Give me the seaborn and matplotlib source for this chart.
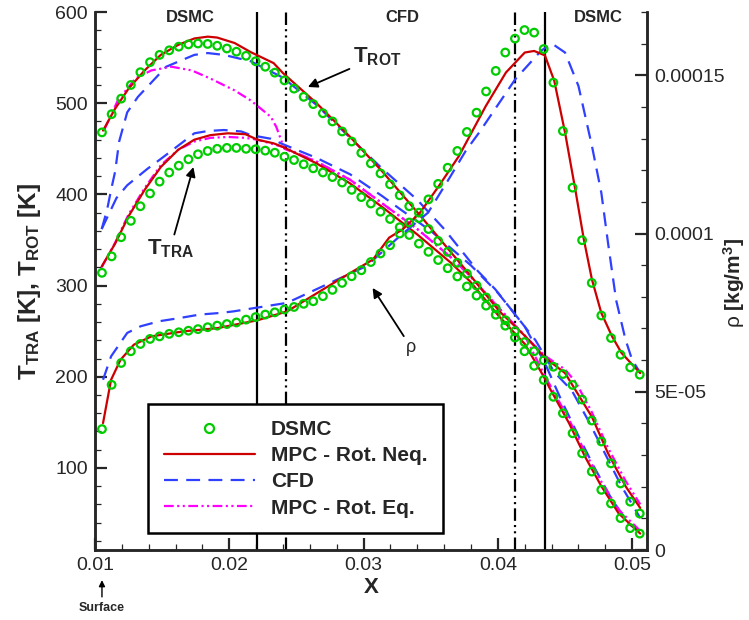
import matplotlib
matplotlib.use("Agg")
import matplotlib.pyplot as plt
from matplotlib.lines import Line2D
from matplotlib.ticker import MultipleLocator, FixedLocator, FixedFormatter
import seaborn as sns

sns.set_style("ticks")
plt.rcParams['font.family'] = ['Liberation Sans', 'DejaVu Sans']
plt.rcParams['mathtext.fontset'] = 'custom'
plt.rcParams['mathtext.rm'] = 'Liberation Sans'
plt.rcParams['mathtext.bf'] = 'Liberation Sans:bold'
plt.rcParams['mathtext.it'] = 'Liberation Sans:italic'
plt.rcParams['lines.scale_dashes'] = False

# DSMC samples (markers)
x_dsmc = [0.01052, 0.01124, 0.01195, 0.01267, 0.01338, 0.01410, 0.01481, 0.01553, 0.01624, 0.01696,
          0.01767, 0.01839, 0.01910, 0.01982, 0.02053, 0.02125, 0.02196, 0.02268, 0.02339, 0.02411,
          0.02482, 0.02554, 0.02625, 0.02697, 0.02768, 0.02840, 0.02911, 0.02983, 0.03054, 0.03126,
          0.03197, 0.03269, 0.03340, 0.03412, 0.03483, 0.03555, 0.03626, 0.03698, 0.03769, 0.03841,
          0.03912, 0.03984, 0.04055, 0.04127, 0.04198, 0.04270, 0.04341, 0.04413, 0.04484, 0.04556,
          0.04627, 0.04699, 0.04770, 0.04842, 0.04913, 0.04985, 0.05056]
trot_dsmc = [468, 488, 505, 520, 534, 545, 553, 558, 562, 564.5,
             565.5, 565, 563, 560, 556.5, 552, 546, 540, 533.5, 525,
             516, 507, 499, 489, 480, 469, 458, 445.5, 434, 423,
             411, 399, 387, 374, 362, 349, 337, 325, 313, 300,
             287, 275, 262, 250, 238, 228, 218, 211, 203, 191,
             175, 152, 129, 105, 83, 63, 50]
ttra_dsmc = [314, 332, 353, 371, 387, 401, 414, 424, 431.5, 438.5,
             444, 447.6, 450, 451, 451, 450, 449.5, 448, 445.7, 441.3,
             437.7, 433, 428.6, 424, 419, 413, 405, 397, 390, 381,
             373, 364, 355.5, 346, 337, 328, 319, 310, 299, 289,
             278, 268, 256, 243, 228, 212, 196.5, 178, 160, 138,
             116, 96, 76, 61, 45, 34, 28]
rho_dsmc = [3.82e-5, 5.22e-5, 5.91e-5, 6.28e-5, 6.51e-5, 6.67e-5, 6.75e-5, 6.83e-5, 6.88e-5, 6.93e-5,
            6.98e-5, 7.04e-5, 7.09e-5, 7.14e-5, 7.19e-5, 7.28e-5, 7.36e-5, 7.44e-5, 7.51e-5, 7.60e-5,
            7.68e-5, 7.78e-5, 7.86e-5, 8.02e-5, 8.22e-5, 8.44e-5, 8.65e-5, 8.84e-5, 9.10e-5, 9.37e-5,
            9.63e-5, 1.000e-4, 1.035e-4, 1.066e-4, 1.108e-4, 1.157e-4, 1.208e-4, 1.261e-4, 1.321e-4, 1.382e-4,
            1.449e-4, 1.514e-4, 1.572e-4, 1.616e-4, 1.643e-4, 1.635e-4, 1.583e-4, 1.477e-4, 1.324e-4, 1.145e-4,
            9.79e-5, 8.44e-5, 7.41e-5, 6.70e-5, 6.17e-5, 5.77e-5, 5.54e-5]

# MPC - rotational non-equilibrium (red)
x_neq_rot = [0.0106, 0.0115, 0.0125, 0.0137, 0.0149, 0.0162, 0.0174, 0.0184, 0.0191, 0.0204, 0.0216,
             0.0233, 0.0240, 0.0265, 0.0290, 0.0314, 0.0342, 0.0379, 0.0401, 0.0420, 0.0435, 0.0450,
             0.0455, 0.0470, 0.0482, 0.0495, 0.0506]
trot_neq = [470, 494, 516, 536, 553, 564, 571, 573, 572, 566, 556,
            544, 533, 500, 463, 425, 377, 312, 272, 245, 221, 204,
            192, 156, 116, 80, 56]
x_neq_tra = [0.0105, 0.0115, 0.0125, 0.0137, 0.0149, 0.0162, 0.0174, 0.0186, 0.0199, 0.0212, 0.0221,
             0.0233, 0.0240, 0.0265, 0.0290, 0.0314, 0.0340, 0.0365, 0.0379, 0.0401, 0.0420, 0.0435,
             0.0438, 0.0453, 0.0465, 0.0477, 0.0490, 0.0506]
ttra_neq = [321, 346, 376, 405, 430, 449, 460, 465, 467, 466, 460,
            456, 452, 434, 412, 386, 356, 325, 305, 266, 236, 198,
            189, 149, 112, 80, 50, 28]
x_neq_rho = [0.0106, 0.0112, 0.0119, 0.0129, 0.0142, 0.0166, 0.0191, 0.0221, 0.0243, 0.0282, 0.0307,
             0.0319, 0.0329, 0.0342, 0.0356, 0.0371, 0.0391, 0.0406, 0.0420, 0.0427, 0.0435, 0.0442,
             0.0450, 0.0458, 0.0464, 0.0470, 0.0477, 0.0485, 0.0492, 0.0500, 0.0506]
rho_neq = [4.01e-5, 5.38e-5, 6.01e-5, 6.49e-5, 6.75e-5, 6.91e-5, 7.01e-5, 7.26e-5, 7.54e-5, 8.55e-5, 9.18e-5,
           9.87e-5, 1.013e-4, 1.066e-4, 1.150e-4, 1.245e-4, 1.403e-4, 1.509e-4, 1.572e-4, 1.577e-4, 1.563e-4, 1.482e-4,
           1.319e-4, 1.130e-4, 9.81e-5, 8.55e-5, 7.49e-5, 6.75e-5, 6.23e-5, 5.86e-5, 5.59e-5]

# CFD (blue)
x_cfd_rot = [0.0105, 0.0109, 0.0112, 0.0115, 0.0118, 0.0124, 0.0132, 0.0153, 0.0174, 0.0184, 0.0196,
             0.0216, 0.0240, 0.0265, 0.0290, 0.0314, 0.0340, 0.0360, 0.0385, 0.0398, 0.0428, 0.0442,
             0.0455, 0.0468, 0.0480, 0.0492, 0.0506]
trot_cfd = [362, 383, 405, 425, 458, 490, 507, 540, 553, 555, 553,
            546, 528, 498, 462, 428, 394, 362, 316, 296, 240, 205,
            185, 150, 115, 80, 45]
x_cfd_tra = [0.0105, 0.0116, 0.0124, 0.0139, 0.0150, 0.0174, 0.0184, 0.0196, 0.0209, 0.0216, 0.0231,
             0.0240, 0.0265, 0.0290, 0.0314, 0.0327, 0.0350, 0.0380, 0.0400, 0.0420, 0.0435, 0.0447,
             0.0460, 0.0472, 0.0485, 0.0498, 0.0506]
ttra_cfd = [362, 396, 410, 428, 440, 467, 469.5, 470.6, 469, 465, 461,
            455, 440, 422, 398, 384, 360, 322, 292, 255, 215, 175,
            135, 100, 65, 38, 30]
x_cfd_rho = [0.0106, 0.0112, 0.0124, 0.0134, 0.0148, 0.0163, 0.0178, 0.0193, 0.0203, 0.0243, 0.0302,
             0.0327, 0.0348, 0.0364, 0.0376, 0.0386, 0.0413, 0.0422, 0.0432, 0.0440, 0.0450, 0.0460,
             0.0470, 0.0477, 0.0482, 0.0488, 0.0495, 0.0500, 0.0506]
rho_cfd = [5.38e-5, 6.12e-5, 6.86e-5, 7.07e-5, 7.23e-5, 7.33e-5, 7.44e-5, 7.49e-5, 7.54e-5, 7.81e-5, 8.97e-5,
           9.92e-5, 1.066e-4, 1.176e-4, 1.261e-4, 1.319e-4, 1.488e-4, 1.530e-4, 1.577e-4, 1.601e-4, 1.572e-4, 1.466e-4,
           1.277e-4, 1.129e-4, 9.70e-5, 7.90e-5, 6.65e-5, 6.00e-5, 5.60e-5]

# MPC - rotational equilibrium (magenta)
x_eq_rot = [0.0107, 0.0117, 0.0130, 0.0142, 0.0157, 0.0172, 0.0186, 0.0204, 0.0216, 0.0231, 0.0235,
            0.0241, 0.0265, 0.0290, 0.0314, 0.0340, 0.0365, 0.0379, 0.0401, 0.0420, 0.0435, 0.0450,
            0.0458, 0.0470, 0.0482, 0.0495, 0.0506]
trot_eq = [471, 503, 527, 536, 540, 536, 527, 514, 503, 485, 474,
           450, 436, 416, 390, 362, 331, 311, 275, 245, 223, 208,
           194, 161, 122, 86, 60]
x_eq_tra = [0.0105, 0.0115, 0.0125, 0.0137, 0.0149, 0.0162, 0.0174, 0.0186, 0.0199, 0.0212, 0.0221,
            0.0240, 0.0265, 0.0290, 0.0314, 0.0340, 0.0365, 0.0379, 0.0401, 0.0420, 0.0435, 0.0453,
            0.0465, 0.0477, 0.0490, 0.0506]
ttra_eq = [320, 347, 378, 407, 432, 449, 458, 462, 463, 462, 460,
           452, 436, 416, 390, 362, 331, 311, 275, 245, 201, 153,
           117, 85, 54, 31]

# interface lines and labels
x_interface_solid = [0.0221, 0.0435]
x_interface_dash = [0.0242, 0.0413]
region_labels = ['DSMC', 'CFD', 'DSMC']
region_x = [0.01711, 0.03289, 0.04748]
rho_ticks = [0, 5e-5, 1e-4, 1.5e-4]
rho_ticklabels = ['0', '5E-05', '0.0001', '0.00015']

GREEN = '#00cc00'
RED = '#cc0000'
BLUE = '#3040ff'
MAGENTA = '#ff00ff'
dash_blue = (0, (10, 6))
dash_mag = (0, (7, 2.5, 1.5, 2.5, 1.5, 2.5))
dash_black = (0, (9, 3, 1.5, 3, 1.5, 3))

fig = plt.figure(figsize=(7.49, 6.2), dpi=100)
ax = fig.add_axes([0.1268, 0.1129, 0.7370, 0.8677])
ax2 = ax.twinx()

for xv in x_interface_solid:
    ax.axvline(xv, color='black', lw=1.6, zorder=1)
for xv in x_interface_dash:
    ax.axvline(xv, color='black', lw=1.6, ls=dash_black, zorder=1)

lw = 1.6
sns.lineplot(x=x_cfd_rot, y=trot_cfd, ax=ax, sort=False, estimator=None, color=BLUE, lw=lw, linestyle=dash_blue)
sns.lineplot(x=x_cfd_tra, y=ttra_cfd, ax=ax, sort=False, estimator=None, color=BLUE, lw=lw, linestyle=dash_blue)
sns.lineplot(x=x_eq_rot, y=trot_eq, ax=ax, sort=False, estimator=None, color=MAGENTA, lw=lw, linestyle=dash_mag)
sns.lineplot(x=x_eq_tra, y=ttra_eq, ax=ax, sort=False, estimator=None, color=MAGENTA, lw=lw, linestyle=dash_mag)
sns.lineplot(x=x_neq_rot, y=trot_neq, ax=ax, sort=False, estimator=None, color=RED, lw=lw)
sns.lineplot(x=x_neq_tra, y=ttra_neq, ax=ax, sort=False, estimator=None, color=RED, lw=lw)
sns.scatterplot(x=x_dsmc, y=trot_dsmc, ax=ax, marker='o', s=30, facecolors='none', edgecolor=GREEN, linewidth=1.6, zorder=5)
sns.scatterplot(x=x_dsmc, y=ttra_dsmc, ax=ax, marker='o', s=30, facecolors='none', edgecolor=GREEN, linewidth=1.6, zorder=5)

sns.lineplot(x=x_cfd_rho, y=rho_cfd, ax=ax2, sort=False, estimator=None, color=BLUE, lw=lw, linestyle=dash_blue)
sns.lineplot(x=x_neq_rho, y=rho_neq, ax=ax2, sort=False, estimator=None, color=RED, lw=lw)
sns.scatterplot(x=x_dsmc, y=rho_dsmc, ax=ax2, marker='o', s=30, facecolors='none', edgecolor=GREEN, linewidth=1.6, zorder=5)

ax.set_xlim(0.01, 0.0511)
ax.set_ylim(10, 600)
ax2.set_ylim(0, 1.7e-4)

ax.xaxis.set_major_locator(FixedLocator([0.01, 0.02, 0.03, 0.04, 0.05]))
ax.xaxis.set_major_formatter(FixedFormatter(['0.01', '0.02', '0.03', '0.04', '0.05']))
ax.xaxis.set_minor_locator(MultipleLocator(0.002))
ax.yaxis.set_major_locator(MultipleLocator(100))
ax.yaxis.set_minor_locator(MultipleLocator(20))
ax2.yaxis.set_major_locator(FixedLocator(rho_ticks))
ax2.yaxis.set_major_formatter(FixedFormatter(rho_ticklabels))
ax2.yaxis.set_minor_locator(MultipleLocator(1e-5))

for a in (ax, ax2):
    a.spines['top'].set_visible(False)
    for s in a.spines.values():
        s.set_linewidth(1.8)
    a.tick_params(which='major', direction='in', length=8.5, width=1.6, labelsize=14, pad=5)
    a.tick_params(which='minor', direction='in', length=4.5, width=0.9)
ax.tick_params(axis='x', which='both', top=False)
ax.tick_params(axis='y', which='both', right=False)

ax.set_xlabel('X', fontsize=16, fontweight='bold', labelpad=2)
ax.set_ylabel(r'T$_{\mathbf{TRA}}$ [K], T$_{\mathbf{ROT}}$ [K]', fontsize=17.5, fontweight='bold', labelpad=9)
ax2.set_ylabel('')
fig.text(734 / 749, 1 - 283 / 620, r'ρ $\mathbf{[kg/m^3]}$', rotation=90, fontsize=15,
         ha='center', va='center')

for lab, xv in zip(region_labels, region_x):
    ax.text(xv, 1.004, lab, transform=ax.get_xaxis_transform(), ha='center', va='top',
            fontsize=12, fontweight='bold')

arrow = dict(arrowstyle='-|>', color='black', lw=1.3, mutation_scale=14, shrinkA=0, shrinkB=0)
ax.annotate(r'T$_{\mathbf{ROT}}$', xy=(0.02585, 517.8), xytext=(0.02919, 550.7),
            fontsize=16, fontweight='bold', ha='left', va='center', arrowprops=arrow, zorder=6)
ax.annotate(r'T$_{\mathbf{TRA}}$', xy=(0.01733, 430), xytext=(0.01560, 340),
            fontsize=16, fontweight='bold', ha='center', va='center', arrowprops=arrow, zorder=6)
ax.annotate('ρ', xy=(0.03067, 297.4), xytext=(0.03356, 231.6),
            fontsize=13, ha='center', va='center', arrowprops=arrow, zorder=6)
ax.annotate('Surface', xy=(0.01052, -0.056), xytext=(0.01052, -0.107),
            xycoords=('data', 'axes fraction'), textcoords=('data', 'axes fraction'),
            fontsize=9, fontweight='bold', ha='center', va='center', annotation_clip=False,
            arrowprops=dict(arrowstyle='-|>', color='black', lw=1.0, mutation_scale=9, shrinkA=1, shrinkB=0))

handles = [
    Line2D([], [], ls='none', marker='o', markersize=6.5, markerfacecolor='none',
           markeredgecolor=GREEN, markeredgewidth=1.6),
    Line2D([], [], color=RED, lw=lw),
    Line2D([], [], color=BLUE, lw=lw, ls=dash_blue),
    Line2D([], [], color=MAGENTA, lw=lw, ls=dash_mag),
]
labels = ['DSMC', 'MPC - Rot. Neq.', 'CFD', 'MPC - Rot. Eq.']
leg = ax2.legend(handles, labels, loc='upper left', bbox_to_anchor=(0.096, 0.271),
                 borderaxespad=0, frameon=True, fancybox=False, framealpha=1, edgecolor='black',
                 handlelength=4.4, handletextpad=0.75, labelspacing=0.35, borderpad=0.75,
                 prop={'weight': 'bold', 'size': 15})
leg.get_frame().set_linewidth(1.8)

fig.savefig('out.png', dpi=100)
